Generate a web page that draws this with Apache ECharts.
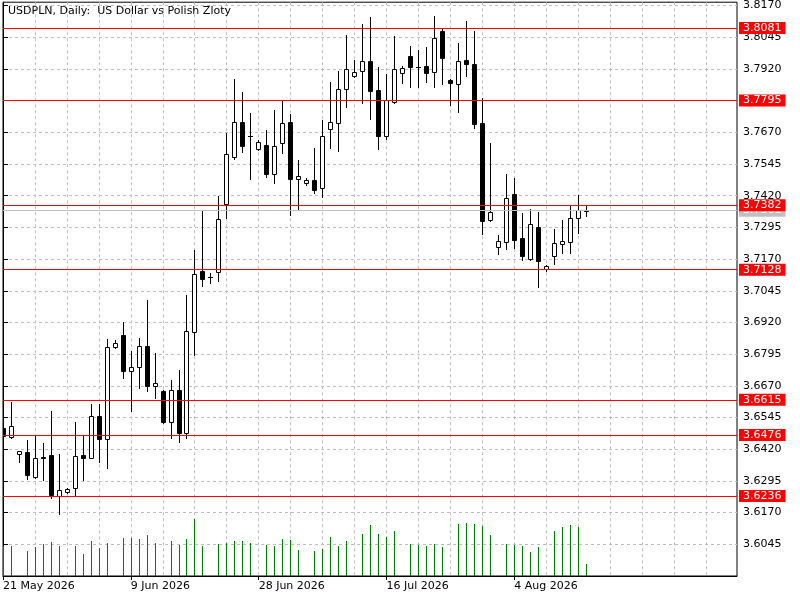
<!DOCTYPE html>
<html><head><meta charset="utf-8">
<script src="https://cdn.jsdelivr.net/npm/echarts@6/dist/echarts.min.js"></script>
<style>html,body{margin:0;padding:0;background:#fff}#chart{width:800px;height:600px}</style>
</head><body><div id="chart"></div>
<script>
const chartTitle = 'USDPLN, Daily:  US Dollar vs Polish Zloty';

const open = [3.6504,3.6469,3.6400,3.6408,3.6309,3.6388,3.6397,3.6237,3.6252,3.6268,
3.6397,3.6387,3.6551,3.6459,3.6822,3.6870,3.6730,3.6745,3.6827,3.6670,
3.6650,3.6528,3.6653,3.6485,3.6883,3.7124,3.7098,3.7118,3.7388,3.7573,
3.7709,3.7656,3.7603,3.7618,3.7506,3.7626,3.7709,3.7484,3.7469,3.7480,
3.7449,3.7684,3.7707,3.7839,3.7893,3.7910,3.7951,3.7836,3.7656,3.7790,
3.7902,3.7971,3.7928,3.7930,3.7906,3.8069,3.7876,3.7859,3.7954,3.7939,
3.7707,3.7323,3.7217,3.7236,3.7425,3.7252,3.7170,3.7295,3.7132,3.7181,
3.7228,3.7238,3.7330,3.7362];
const high = [3.6508,3.6606,3.6414,3.6456,3.6475,3.6443,3.6571,3.6401,3.6268,3.6527,
3.6473,3.6598,3.6598,3.6855,3.6851,3.6922,3.6808,3.6858,3.7008,3.6799,
3.6652,3.6693,3.6732,3.7028,3.7205,3.7359,3.7114,3.7418,3.7666,3.7880,
3.7829,3.7746,3.7639,3.7679,3.7758,3.7794,3.7742,3.7560,3.7491,3.7607,
3.7718,3.7868,3.7911,3.8053,3.7955,3.8099,3.8123,3.7928,3.7900,3.8049,
3.7931,3.8010,3.7994,3.8006,3.8128,3.8080,3.7882,3.8023,3.8109,3.8069,
3.7804,3.7629,3.7265,3.7504,3.7491,3.7350,3.7366,3.7354,3.7146,3.7288,
3.7324,3.7380,3.7422,3.7380];
const low = [3.6468,3.6465,3.6370,3.6302,3.6307,3.6299,3.6229,3.6166,3.6248,3.6235,
3.6299,3.6385,3.6370,3.6347,3.6820,3.6702,3.6572,3.6663,3.6651,3.6623,
3.6524,3.6465,3.6450,3.6465,3.6791,3.7065,3.7074,3.7084,3.7333,3.7563,
3.7593,3.7487,3.7602,3.7492,3.7471,3.7589,3.7345,3.7368,3.7462,3.7429,
3.7416,3.7608,3.7597,3.7771,3.7889,3.7784,3.7722,3.7603,3.7642,3.7786,
3.7863,3.7849,3.7847,3.7868,3.7849,3.7859,3.7777,3.7751,3.7893,3.7685,
3.7267,3.7319,3.7191,3.7209,3.7212,3.7166,3.7166,3.7061,3.7124,3.7150,
3.7192,3.7192,3.7271,3.7341];
const close = [3.6472,3.6510,3.6412,3.6319,3.6384,3.6385,3.6239,3.6258,3.6263,3.6393,
3.6387,3.6550,3.6461,3.6822,3.6838,3.6730,3.6743,3.6826,3.6669,3.6680,
3.6526,3.6653,3.6485,3.6885,3.7111,3.7092,3.7098,3.7327,3.7583,3.7709,
3.7617,3.7656,3.7630,3.7506,3.7614,3.7705,3.7484,3.7497,3.7480,3.7441,
3.7656,3.7709,3.7839,3.7919,3.7906,3.7950,3.7834,3.7656,3.7797,3.7919,
3.7922,3.7928,3.7928,3.7905,3.8040,3.7964,3.7863,3.7950,3.7938,3.7702,
3.7321,3.7354,3.7240,3.7411,3.7246,3.7183,3.7308,3.7163,3.7141,3.7233,
3.7241,3.7330,3.7362,3.7361];
const volume = [30,30.3,null,25,29,32,34,30.3,null,30.3,
22.3,35,28,33,null,38,38.3,37,41,33.3,
null,35,31.3,37,57,30.3,null,32.3,33.3,35,
35,33,null,31.3,30.3,37,36,26,null,25.3,
27.3,39.3,30.3,35.3,null,42.3,51.3,42.3,39.3,45,
null,32.3,31.3,30.3,32.3,29.3,null,52.3,53.3,52.3,
50.3,41.3,null,32.3,31.3,30.3,24.3,29.3,null,45.3,
49.3,51.3,49.3,12.3];

const dateLabels = ['21 May 2026','9 Jun 2026','28 Jun 2026','16 Jul 2026','4 Aug 2026'];
const dateLabelSlots = [0,16,32,48,64];
const levelLines = [3.8081,3.7795,3.7382,3.7128,3.6615,3.6476,3.6236];
const bidPrice = 3.7361;

const priceMin = 3.5920, priceMax = 3.8183, priceStep = 0.0125;
const slotMax = 91.875, gridSlotStep = 4;
const volumeMax = 574;

const FONT = 'DejaVu Sans';
const candleData = open.map((o, i) => [i, o, close[i], low[i], high[i]]);
const volData = volume.map((v, i) => [i, v]).filter(d => d[1] != null);

function snap(x) { return Math.floor(x + 0.25) + 0.5; }

function renderCandle(params, api) {
  const i = api.value(0), o = api.value(1), c = api.value(2), l = api.value(3), h = api.value(4);
  const pO = api.coord([i, o]), pC = api.coord([i, c]);
  const yH = api.coord([i, h])[1], yL = api.coord([i, l])[1];
  const x = snap(pO[0]);
  const yTop = Math.round(Math.min(pO[1], pC[1])) + 0.5;
  const yBot = Math.round(Math.max(pO[1], pC[1])) + 0.5;
  const children = [{
    type: 'line',
    shape: { x1: x, y1: Math.round(yH), x2: x, y2: Math.round(yL) + 1 },
    style: { stroke: '#000', lineWidth: 1 }
  }];
  if (yBot - yTop < 1) {
    children.push({ type: 'line', shape: { x1: x - 2.5, y1: yTop, x2: x + 2.5, y2: yTop },
      style: { stroke: '#000', lineWidth: 1 } });
  } else {
    children.push({ type: 'rect', shape: { x: x - 2, y: yTop, width: 4, height: yBot - yTop },
      style: { fill: c >= o ? '#fff' : '#000', stroke: '#000', lineWidth: 1 } });
  }
  return { type: 'group', children };
}

function renderVolume(params, api) {
  const i = api.value(0), v = api.value(1);
  const p0 = api.coord([i, 0]), p1 = api.coord([i, v]);
  const x = snap(p0[0]);
  return { type: 'line', shape: { x1: x, y1: p0[1], x2: x, y2: Math.round(p1[1]) },
    style: { stroke: '#008000', lineWidth: 1 } };
}

const chart = echarts.init(document.getElementById('chart'), null, { renderer: 'canvas' });
chart.setOption({
  animation: false,
  backgroundColor: '#fff',
  textStyle: { fontFamily: FONT },
  graphic: [{
    type: 'text', left: 8, top: 6, z: 100,
    style: { text: chartTitle, font: '11px "DejaVu Sans"', fill: '#000' }
  }],
  grid: { left: 2, top: 2, right: 63, bottom: 24, show: true, borderColor: '#000', borderWidth: 1, backgroundColor: '#fff' },
  xAxis: [{
    type: 'value', min: 0, max: slotMax, interval: gridSlotStep,
    axisLine: { show: true, lineStyle: { color: '#000', width: 1 } },
    axisTick: { show: false },
    splitLine: { show: true, showMinLine: false, showMaxLine: false, lineStyle: { color: '#c0c0c0', type: [3, 3], width: 1 } },
    axisLabel: {
      show: true, color: '#000', fontSize: 11, fontFamily: FONT, align: 'left', margin: 5,
      showMinLabel: true, showMaxLabel: false, hideOverlap: false,
      formatter: v => { const k = dateLabelSlots.indexOf(Math.round(v)); return k >= 0 ? dateLabels[k] : ''; }
    }
  }, {
    type: 'value', min: 0, max: slotMax, position: 'bottom',
    axisLine: { show: false },
    axisTick: { show: true, customValues: dateLabelSlots, length: 4, lineStyle: { color: '#000' } },
    axisLabel: { show: false },
    splitLine: { show: false }
  }],
  yAxis: [{
    type: 'value', position: 'right', min: priceMin, max: priceMax, interval: priceStep,
    axisLine: { show: true, lineStyle: { color: '#000', width: 1 } },
    axisTick: { show: true, length: 5, lineStyle: { color: '#000' } },
    splitLine: { show: true, showMinLine: false, showMaxLine: false, lineStyle: { color: '#c0c0c0', type: [3, 3], width: 1 } },
    axisLabel: { color: '#000', fontSize: 11, fontFamily: FONT, margin: 6, showMinLabel: false, showMaxLabel: false,
      formatter: v => v.toFixed(4) }
  }, {
    type: 'value', min: 0, max: volumeMax, show: false
  }],
  series: [{
    type: 'custom', name: 'volume', xAxisIndex: 0, yAxisIndex: 1, z: 2, clip: true, silent: true,
    renderItem: renderVolume, data: volData, encode: { x: 0, y: 1 }
  }, {
    type: 'custom', name: 'USDPLN', xAxisIndex: 0, yAxisIndex: 0, z: 3, clip: true, silent: true,
    renderItem: renderCandle, data: candleData, encode: { x: 0, y: [1, 2, 3, 4] }
  }, {
    type: 'line', name: 'bid', data: [], xAxisIndex: 0, yAxisIndex: 0, z: 4,
    markLine: {
      silent: true, symbol: ['none', 'none'], animation: false, precision: 4,
      lineStyle: { color: '#c0c0c0', width: 1, type: 'solid' },
      label: { position: 'end', distance: 2, formatter: p => Number(p.value).toFixed(4), color: '#fff',
        backgroundColor: '#c0c0c0', padding: [1, 4, 0, 4], fontSize: 11, fontFamily: FONT },
      emphasis: { disabled: true },
      data: [{ yAxis: bidPrice }]
    }
  }, {
    type: 'line', name: 'levels', data: [], xAxisIndex: 0, yAxisIndex: 0, z: 5,
    markLine: {
      silent: true, symbol: ['none', 'none'], animation: false, precision: 4,
      lineStyle: { color: '#ff0000', width: 1, type: 'solid' },
      label: { position: 'end', distance: 2, formatter: p => Number(p.value).toFixed(4), color: '#fff',
        backgroundColor: '#ff0000', padding: [1, 4, 0, 4], fontSize: 11, fontFamily: FONT },
      emphasis: { disabled: true },
      data: levelLines.map(v => ({ yAxis: v }))
    }
  }]
});
</script></body></html>
